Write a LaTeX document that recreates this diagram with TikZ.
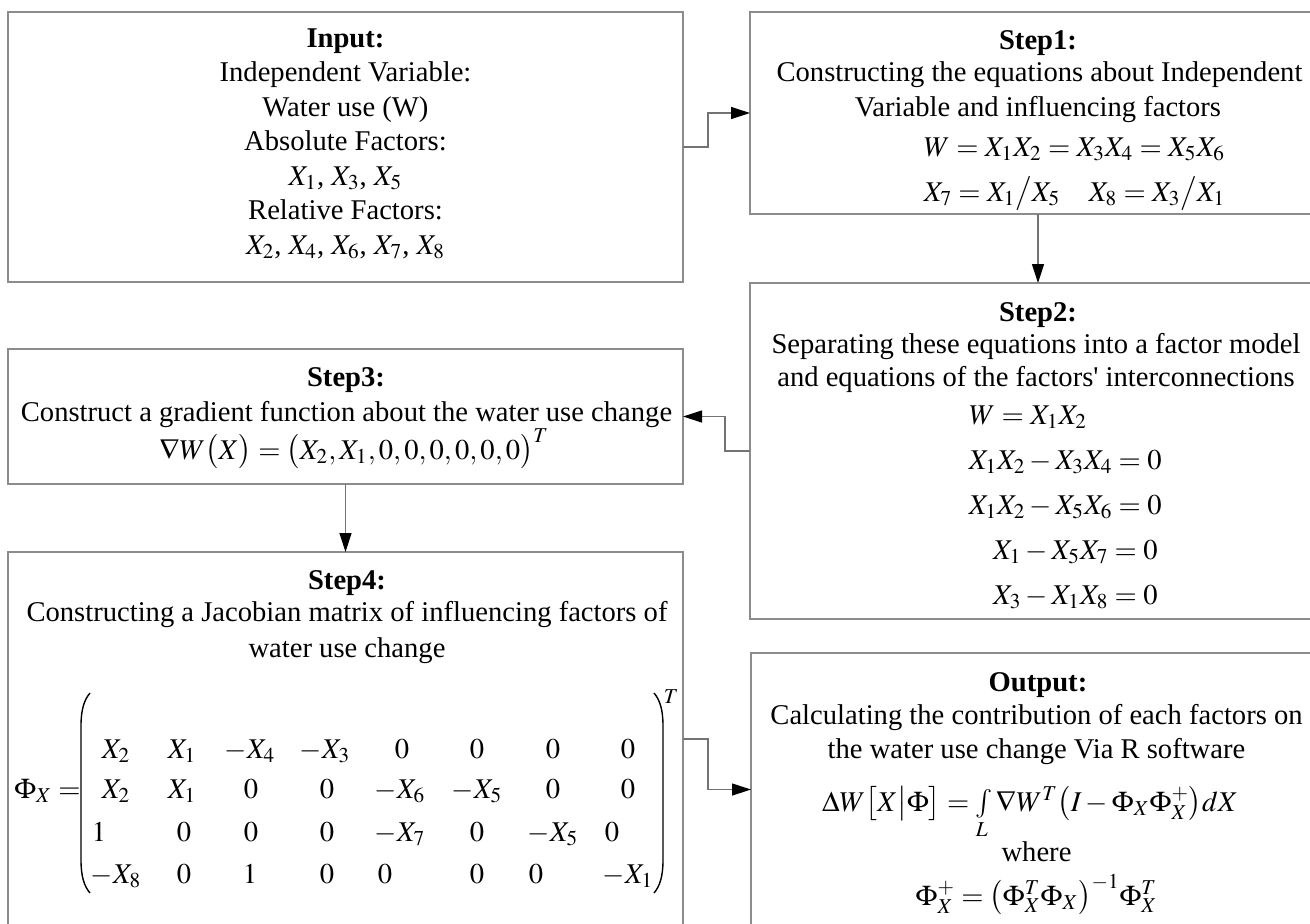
\documentclass[tikz,border=0pt]{standalone}
\usepackage{mathptmx}
\usepackage{fontspec}
\setmainfont{Liberation Serif}
\usetikzlibrary{arrows.meta}
\definecolor{boxgray}{RGB}{140,140,140}
\definecolor{linegray}{RGB}{115,115,115}
\newcommand{\fsz}{\fontsize{14.3pt}{17.2pt}\selectfont}
\tikzset{
  box/.style={draw=boxgray, line width=0.6pt, rectangle, inner sep=0pt, outer sep=0pt},
  txt/.style={anchor=base, inner sep=0pt, font=\fsz},
  txtw/.style={anchor=base west, inner sep=0pt, font=\fsz},
  txte/.style={anchor=base east, inner sep=0pt, font=\fsz},
  mcell/.style={anchor=base, inner sep=0pt, font=\fsz},
  parenline/.style={draw=black, line width=0.7pt},
  conn/.style={draw=linegray, line width=0.6pt, -{Triangle[length=9.5pt,width=6pt,color=black]}}
}
\begin{document}
\begin{tikzpicture}[x=0.5pt,y=-0.5pt]
\clip (0,0) rectangle (1310,923);
% boxes
\node[box, minimum width=337.5pt, minimum height=135pt] (input) at (345.5,147) {};
\node[box, minimum width=288pt, minimum height=101pt] (step1) at (1038,113) {};
\node[box, minimum width=288pt, minimum height=168pt] (step2) at (1038,451) {};
\node[box, minimum width=337.5pt, minimum height=67.5pt] (step3) at (345.5,416.5) {};
\node[box, minimum width=337.5pt, minimum height=187pt] (step4) at (345.5,739) {};
\node[box, minimum width=287.5pt, minimum height=136.5pt] (output) at (1038.5,789.5) {};
% connectors
\draw[conn] (input.east) -- ++(25,0) |- (step1.west);
\draw[conn] (step1.south) -- (step2.north);
\draw[conn] (step2.west) -- ++(-25,0) |- (step3.east);
\draw[conn] (step3.south) -- (step4.north);
\draw[conn] (step4.east) -- ++(25,0) |- (output.west);
% Input text
\node[txt] (i1) at (345.5,47) {\textbf{Input:}};
\node[txt] (i2) at (345.5,81.5) {Independent Variable:};
\node[txt] (i3) at (345.5,116) {Water use (W)};
\node[txt] (i4) at (345.5,150.5) {Absolute Factors:};
\node[txt] (i5) at (345.5,185) {$X_1$, $X_3$, $X_5$};
\node[txt] (i6) at (345.5,219.5) {Relative Factors:};
\node[txt] (i7) at (345.5,254) {$X_2$, $X_4$, $X_6$, $X_7$, $X_8$};
% Step1 text
\node[txt] (s1a) at (1038,49) {\textbf{Step1:}};
\node[txt] (s1b) at (1039.5,81) {Constructing the equations about Independent};
\node[txt] (s1c) at (1038,116) {Variable and influencing factors};
\node[txt] (s1d) at (1074.5,156) {$W = X_1X_2 = X_3X_4 = X_5X_6$};
\node[txt] (s1e) at (1074.5,201) {$X_7 = X_1{\big/}X_5\quad X_8 = X_3{\big/}X_1$};
% Step2 text
\node[txt] (s2a) at (1038,321) {\textbf{Step2:}};
\node[txt] (s2b) at (1036,353) {Separating these equations into a factor model};
\node[txt] (s2c) at (1036,386) {and equations of the factors\textquotesingle{} interconnections};
\node[txtw] (s2d) at (969,424) {$W = X_1X_2$};
\node[txte] (s2e) at (1162,469) {$X_1X_2 - X_3X_4 = 0$};
\node[txte] (s2f) at (1162,514) {$X_1X_2 - X_5X_6 = 0$};
\node[txte] (s2g) at (1158,559) {$X_1 - X_5X_7 = 0$};
\node[txte] (s2h) at (1158,604) {$X_3 - X_1X_8 = 0$};
% Step3 text
\node[txt] (s3a) at (346,386) {\textbf{Step3:}};
\node[txt] (s3b) at (346.5,421) {Construct a gradient function about the water use change};
\node[txt] (s3c) at (354,459) {$\nabla W\bigl(X\bigr)=\bigl(X_2,X_1,0,0,0,0,0,0\bigr)^{T}$};
% Step4 text
\node[txt] (s4a) at (347,589) {\textbf{Step4:}};
\node[txt] (s4b) at (347,621) {Constructing a Jacobian matrix of influencing factors of};
\node[txt] (s4c) at (347,657) {water use change};
\node[txtw] (phix) at (14,798) {$\Phi_X =$};
\draw[parenline] (90,693) .. controls (84,700) and (81,710) .. (81,726) -- (81,860) .. controls (81,876) and (84,886) .. (90,893);
\draw[parenline] (654,693) .. controls (660,700) and (663,710) .. (663,726) -- (663,860) .. controls (663,876) and (660,886) .. (654,893);
\node[inner sep=0pt, font=\fsz] (tsup) at (671,697) {$\scriptstyle T$};
\foreach \px/\ent [count=\k] in {116/X_2,182/X_1,250/-X_4,325/-X_3,402/0,477/0,553/0,628/0}
  \node[mcell] (ra\k) at (\px,758) {$\ent$};
\foreach \px/\ent [count=\k] in {116/X_2,182/X_1,251/0,327/0,400/-X_6,477/-X_5,553/0,628/0}
  \node[mcell] (rb\k) at (\px,798) {$\ent$};
\foreach \px/\ent [count=\k] in {99/1,184/0,251/0,327/0,400/-X_7,477/0,553/-X_5,612/0}
  \node[mcell] (rc\k) at (\px,841) {$\ent$};
\foreach \px/\ent [count=\k] in {116/-X_8,184/0,250/1,327/0,385/0,477/0,536/0,628/-X_1}
  \node[mcell] (rd\k) at (\px,883) {$\ent$};
% Output text
\node[txt] (o1) at (1038,691) {\textbf{Output:}};
\node[txt] (o2) at (1036.5,724) {Calculating the contribution of each factors on};
\node[txt] (o3) at (1036.5,758) {the water use change Via R software};
\node[txt] (o4) at (1030,811) {$\Delta W\bigl[X\big|\Phi\bigr]=\int\limits_{L}\nabla W^{T}\bigl(I-\Phi_X\Phi_X^{+}\bigr)dX$};
\node[txt] (o5) at (1036.5,861) {where};
\node[txt] (o6) at (1036.5,905) {$\Phi_X^{+}=\bigl(\Phi_X^{T}\Phi_X\bigr)^{-1}\Phi_X^{T}$};
\end{tikzpicture}
\end{document}
